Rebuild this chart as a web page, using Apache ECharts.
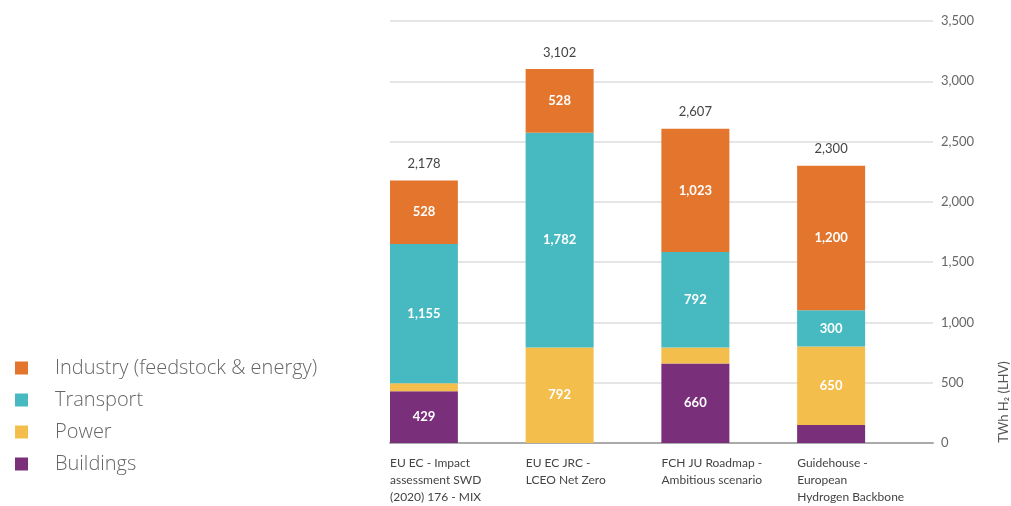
<!DOCTYPE html>
<html>
<head>
<meta charset="utf-8">
<script src="https://cdn.jsdelivr.net/npm/echarts@6/dist/echarts.min.js"></script>
<style>
  html, body { margin: 0; padding: 0; background: #fff; }
</style>
</head>
<body>
<div id="chart" style="width: 1011px; height: 506px;"></div>
<script>
// data
var categories = [
  'EU EC - Impact\nassessment SWD\n(2020) 176 - MIX',
  'EU EC JRC -\nLCEO Net Zero',
  'FCH JU Roadmap -\nAmbitious scenario',
  'Guidehouse -\nEuropean\nHydrogen Backbone'
]
var buildings = [429, 0, 660, 150]
var power = [66, 792, 132, 650]
var transport = [1155, 1782, 792, 300]
var industry = [528, 528, 1023, 1200]
var totals = [2178, 3102, 2607, 2300]
var yTicks = [0, 500, 1000, 1500, 2000, 2500, 3000, 3500]

var colors = {
  industry: '#E3752D',
  transport: '#47B9C0',
  power: '#F4BE4C',
  buildings: '#7A2F7B'
}
var font = 'Lato'

function fmt (v) {
  return Number(v).toLocaleString('en-US')
}

function segment (name, data, color) {
  return {
    name: name,
    type: 'bar',
    stack: 'a',
    xAxisIndex: 0,
    barWidth: 68,
    barGap: '0%',
    data: data,
    itemStyle: { color: color },
    label: {
      show: true,
      position: 'inside',
      color: '#fff',
      fontFamily: font,
      fontSize: 13,
      fontWeight: 'bold',
      formatter: function (p) { return p.value >= 250 ? fmt(p.value) : '' }
    }
  }
}

var myChart = echarts.init(document.getElementById('chart'))
myChart.setOption({
  backgroundColor: '#fff',
  animation: false,
  textStyle: { fontFamily: font },
  legend: {
    orient: 'vertical',
    left: 10,
    top: 353,
    icon: 'rect',
    itemWidth: 13,
    itemHeight: 13,
    itemGap: 12,
    data: ['Industry (feedstock & energy)', 'Transport', 'Power', 'Buildings'],
    textStyle: {
      fontFamily: 'Open Sans',
      fontSize: 20,
      fontWeight: 300,
      lineHeight: 20,
      color: '#666',
      padding: [0, 0, 0, 22]
    }
  },
  grid: { left: 390, right: 78, top: 21, bottom: 60 },
  xAxis: [{
    type: 'category',
    data: categories,
    axisLine: { lineStyle: { color: '#aaa', width: 2 } },
    axisTick: { show: false },
    axisLabel: { show: false }
  }, {
    // label axis: ticks sit on the left edge of each bar
    type: 'category',
    position: 'bottom',
    boundaryGap: false,
    data: categories.concat(['']),
    axisLine: { show: false },
    axisTick: { show: false },
    axisLabel: {
      interval: 0,
      align: 'left',
      verticalAlign: 'top',
      margin: 12,
      color: '#444',
      fontFamily: font,
      fontSize: 12,
      lineHeight: 17
    }
  }],
  yAxis: {
    type: 'value',
    position: 'right',
    min: yTicks[0],
    max: yTicks[yTicks.length - 1],
    interval: 500,
    axisLine: { show: false },
    axisTick: { show: false },
    splitLine: { lineStyle: { color: '#ddd', width: 1.5 } },
    axisLabel: {
      margin: 8,
      color: '#666',
      fontFamily: font,
      fontSize: 13,
      formatter: function (v) { return fmt(v) }
    }
  },
  graphic: [{
    type: 'text',
    x: 1004,
    y: 402,
    rotation: Math.PI / 2,
    style: {
      text: 'TWh H₂ (LHV)',
      fill: '#555',
      font: '13px ' + font,
      align: 'center',
      verticalAlign: 'middle'
    }
  }],
  series: [
    segment('Buildings', buildings, colors.buildings),
    segment('Power', power, colors.power),
    segment('Transport', transport, colors.transport),
    segment('Industry (feedstock & energy)', industry, colors.industry),
    {
      name: 'total',
      type: 'bar',
      stack: 'a',
      xAxisIndex: 0,
      barWidth: 68,
      data: totals.map(function () { return 0 }),
      itemStyle: { color: 'transparent' },
      label: {
        show: true,
        position: 'top',
        distance: 10,
        color: '#444',
        fontFamily: font,
        fontSize: 13,
        formatter: function (p) { return fmt(totals[p.dataIndex]) }
      }
    },
    {
      // empty neighbour column so each stack sits in the left half of its slot
      name: 'spacer',
      type: 'bar',
      stack: 'b',
      xAxisIndex: 0,
      barWidth: 68,
      data: totals.map(function () { return '-' })
    }
  ]
})
</script>
</body>
</html>
